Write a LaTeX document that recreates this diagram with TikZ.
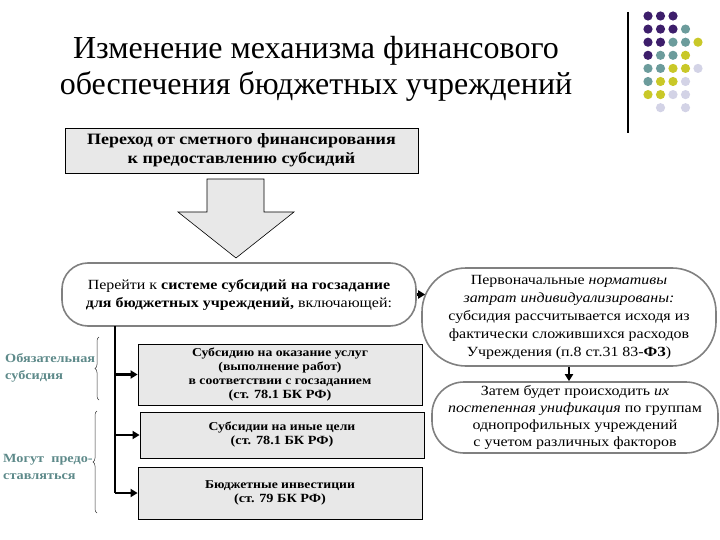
\documentclass[tikz,border=0pt]{standalone}
\usepackage{fontspec}
\setmainfont{Liberation Serif}[FakeStretch=1.14]
\newfontfamily\titlefont{Liberation Serif}
\usetikzlibrary{arrows.meta,decorations.pathreplacing}
\definecolor{cPlum}{HTML}{3D1E6B}
\definecolor{cSea}{HTML}{6C9C9C}
\definecolor{cOlive}{HTML}{C9C828}
\definecolor{cLilac}{HTML}{D3D3E6}
\definecolor{cBox}{HTML}{E8E8E8}
\definecolor{cEdge}{HTML}{808080}
\definecolor{cNote}{HTML}{5E8A8A}
\tikzset{
  bx/.style={draw=black,line width=0.8pt,fill=cBox,font=\bfseries\fontsize{12}{14}\selectfont,align=center,inner sep=0pt},
  ov/.style={draw=cEdge,line width=1.6pt,fill=white,rounded corners=26pt,align=center,inner sep=0pt,font=\fontsize{14}{18}\selectfont},
  side/.style={text=cNote,font=\bfseries\fontsize{12.5}{17}\selectfont,align=left,anchor=west,inner sep=0pt},
  pin/.style={-{Triangle[length=7pt,width=8pt]},line width=2.6pt,black},
  brc/.style={decorate,decoration={brace,amplitude=4pt},draw=black!80,line width=0.5pt},
}

\begin{document}
\begin{tikzpicture}[x=1pt,y=-1pt]
  \useasboundingbox (0,0) rectangle (720,540);
  % title and corner ornament
  \node[font=\titlefont\fontsize{32}{36}\selectfont,align=center] (title) at (316,69) {Изменение механизма финансового\\обеспечения бюджетных учреждений};
  \draw[line width=1.2pt] (628,12) -- (628,133);
  \foreach \c/\r/\k in {0/0/cPlum,1/0/cPlum,2/0/cPlum,
      0/1/cPlum,1/1/cPlum,2/1/cPlum,3/1/cSea,
      0/2/cPlum,1/2/cPlum,2/2/cSea,3/2/cSea,4/2/cOlive,
      0/3/cPlum,1/3/cSea,2/3/cSea,3/3/cOlive,
      0/4/cSea,1/4/cSea,2/4/cOlive,3/4/cOlive,4/4/cLilac,
      0/5/cSea,1/5/cOlive,2/5/cOlive,3/5/cLilac,
      0/6/cOlive,1/6/cOlive,2/6/cLilac,3/6/cLilac,
      1/7/cLilac,3/7/cLilac}
    \fill[\k] (648+12.5*\c,16+13.1*\r) circle (4.6);
  % left column
  \node[bx,font=\bfseries\fontsize{15.8}{19}\selectfont,minimum width=353,minimum height=45] (shift) at (241.5,150.5) {Переход от сметного финансирования\\к предоставлению субсидий};
  \draw[fill=cBox,line width=0.6pt] (207,179) -- (264,179) -- (264,212) -- (294,212) -- (236,258) -- (178,212) -- (207,212) -- cycle;
  \node[ov,minimum width=354,minimum height=63] (goal) at (239,294.5) {Перейти к \textbf{системе субсидий на госзадание}\\\textbf{для бюджетных учреждений,} включающей:};
  \node[bx,minimum width=284,minimum height=61] (task) at (280,374.5) {Субсидию на оказание услуг\\(выполнение работ)\\в соответствии с госзаданием\\{\fontsize{12.5}{14}\selectfont(ст. 78.1 БК РФ)}};
  \node[bx,minimum width=284,minimum height=46] (other) at (282,435) {Субсидии на иные цели\\{\fontsize{12.5}{14}\selectfont(ст. 78.1 БК РФ)}};
  \node[bx,minimum width=284,minimum height=52] (invest) at (280,493) {Бюджетные инвестиции\\{\fontsize{12.5}{14}\selectfont(ст. 79 БК РФ)}};
  \coordinate (trunk) at (115,326);
  \draw[line width=2.6pt] (trunk) -- (trunk |- invest.west);
  \foreach \b in {task,other,invest}
    \draw[pin] (trunk |- \b.west) -- (\b.west);
  \draw[brc] (99,400) -- (99,337);
  \draw[brc] (97,513) -- (97,411);
  \node[side] (must) at (5,368) {Обязательная\\субсидия};
  \node[side] (may) at (3,467) {Могут\ \ предо-\\ставляться};
  % right column
  \node[ov,rounded corners=44pt,minimum width=294,minimum height=98] (norm) at (569,317) {Первоначальные \textit{нормативы}\\\textit{затрат индивидуализированы:}\\субсидия рассчитывается исходя из\\фактически сложившихся расходов\\Учреждения (п.8 ст.31 83-\textbf{ФЗ})};
  \node[ov,rounded corners=32pt,minimum width=286,minimum height=71,font=\fontsize{14}{17}\selectfont] (unif) at (575,417.5) {Затем будет происходить \textit{их}\\\textit{постепенная унификация} по группам\\однопрофильных учреждений\\с учетом различных факторов};
  \draw[pin,shorten >=-4pt] (goal.east) -- (norm.west |- goal.east);
  \draw[pin] (norm.south) -- (unif.north -| norm.south);
\end{tikzpicture}
\end{document}
